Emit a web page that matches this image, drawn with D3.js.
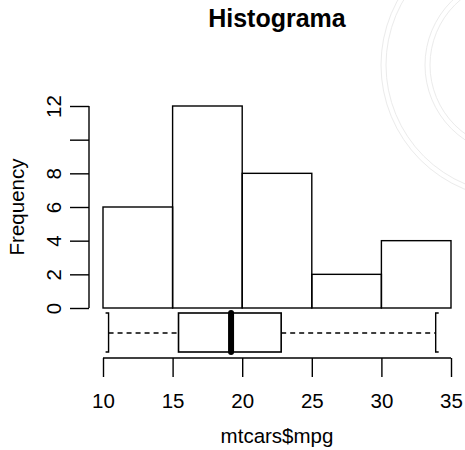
<!DOCTYPE html>
<html><head><meta charset="utf-8">
<script src="https://cdn.jsdelivr.net/npm/d3@7"></script>
<style>body{margin:0;background:#fff}svg{display:block}text{font-family:"Liberation Sans",Arial,Helvetica,sans-serif}</style>
</head><body>
<script>
const binStarts = [10, 15, 20, 25, 30];
const binWidth = 5;
const counts = [6, 12, 8, 2, 4];
const xTicks = [10, 15, 20, 25, 30, 35];
const yTicks = [0, 2, 4, 6, 8, 10, 12];
const yTickLabels = ["0", "2", "4", "6", "8", "", "12"];
const boxStats = {min: 10.4, q1: 15.425, median: 19.2, q3: 22.8, max: 33.9};
const title = "Histograma";
const xLabel = "mtcars$mpg";
const yLabel = "Frequency";

const W = 465, H = 450;
const svg = d3.select("body").append("svg").attr("width", W).attr("height", H);

// faint watermark seal
const wm = svg.append("g").attr("fill", "none").attr("stroke", "#ebebeb").attr("stroke-width", 1);
[134, 129, 90, 85].forEach(r => wm.append("circle").attr("cx", 515).attr("cy", 65).attr("r", r));

const x = d3.scaleLinear().domain([10, 35]).range([103, 451]);
const y = d3.scaleLinear().domain([0, 12]).range([308, 106]);

// bars
svg.append("g").selectAll("rect").data(binStarts).join("rect")
  .attr("x", d => x(d)).attr("width", d => x(d + binWidth) - x(d))
  .attr("y", (d, i) => y(counts[i])).attr("height", (d, i) => y(0) - y(counts[i]))
  .attr("fill", "none").attr("stroke", "#000").attr("stroke-width", 1.4);

// y axis
const yAxis = svg.append("g").attr("transform", "translate(89,0)")
  .call(d3.axisLeft(y).tickValues(yTicks).tickFormat((d, i) => yTickLabels[i]).tickSize(19));
yAxis.select(".domain").attr("stroke-width", 1.4).attr("d", `M0,${y(12)}V${y(0)}`);
yAxis.selectAll(".tick line").attr("stroke-width", 1.4);
yAxis.selectAll(".tick text").attr("font-size", 20.5).attr("fill", "#000")
  .attr("text-anchor", "middle").attr("x", 0).attr("y", 0).attr("dy", null)
  .attr("transform", "translate(-28,0) rotate(-90)");

// x axis
const xAxis = svg.append("g").attr("transform", "translate(0,358)")
  .call(d3.axisBottom(x).tickValues(xTicks).tickSize(19));
xAxis.select(".domain").attr("stroke-width", 1.4).attr("d", `M${x(10)},0H${x(35)}`);
xAxis.selectAll(".tick line").attr("stroke-width", 1.4);
xAxis.selectAll(".tick text").attr("font-size", 20.5).attr("fill", "#000")
  .attr("dy", null).attr("y", 50);

// boxplot
const bTop = 313, bBot = 352, bMid = 333;
const bp = svg.append("g").attr("stroke", "#000").attr("fill", "none");
bp.append("line").attr("x1", x(boxStats.min)).attr("x2", x(boxStats.q1)).attr("y1", bMid).attr("y2", bMid)
  .attr("stroke-dasharray", "5,4").attr("stroke-width", 1.4);
bp.append("line").attr("x1", x(boxStats.q3)).attr("x2", x(boxStats.max)).attr("y1", bMid).attr("y2", bMid)
  .attr("stroke-dasharray", "5,4").attr("stroke-width", 1.4);
bp.append("path").attr("stroke-width", 1.4)
  .attr("d", `M${x(boxStats.min)-3},${bTop}H${x(boxStats.min)}V${bBot}H${x(boxStats.min)-3}`);
bp.append("path").attr("stroke-width", 1.4)
  .attr("d", `M${x(boxStats.max)+3},${bTop}H${x(boxStats.max)}V${bBot}H${x(boxStats.max)+3}`);
bp.append("rect").attr("x", x(boxStats.q1)).attr("width", x(boxStats.q3) - x(boxStats.q1))
  .attr("y", bTop).attr("height", bBot - bTop).attr("stroke-width", 1.6);
bp.append("line").attr("x1", x(boxStats.median)).attr("x2", x(boxStats.median)).attr("y1", bTop).attr("y2", bBot)
  .attr("stroke-width", 6).attr("stroke-linecap", "round");

// titles
svg.append("text").attr("x", 277).attr("y", 27).attr("text-anchor", "middle")
  .attr("font-size", 25).attr("font-weight", "bold").text(title);
svg.append("text").attr("x", 277).attr("y", 443).attr("text-anchor", "middle")
  .attr("font-size", 20.5).text(xLabel);
svg.append("text").attr("transform", "translate(24,207) rotate(-90)").attr("text-anchor", "middle")
  .attr("font-size", 20.5).text(yLabel);
</script>
</body></html>
